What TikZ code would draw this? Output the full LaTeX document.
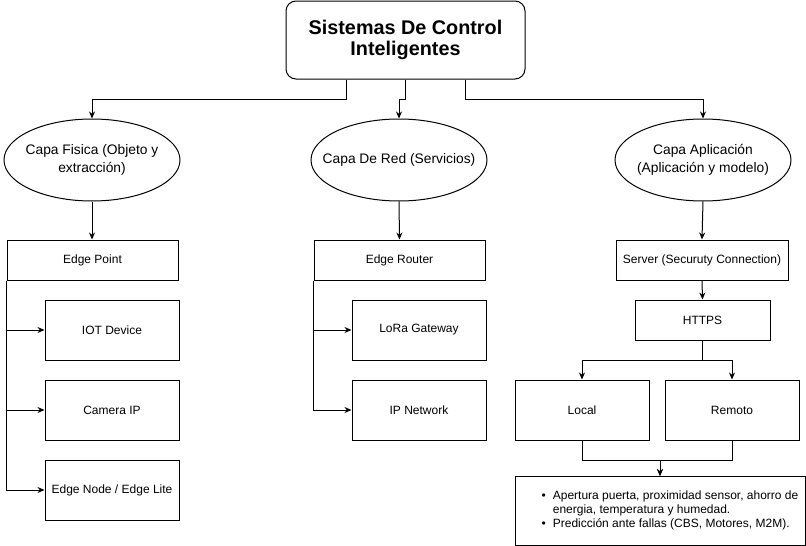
\documentclass[tikz,border=0pt]{standalone}
\usepackage{fontspec}
\setmainfont{Liberation Sans}
\usetikzlibrary{arrows.meta,shapes.geometric}

\begin{document}
\begin{tikzpicture}[x=1pt,y=-1pt,
  arr/.style={-{Stealth[length=7pt,width=6pt]}, line width=1pt},
  layer/.style={draw, ellipse, line width=1pt, minimum width=176pt, minimum height=82pt, inner xsep=-25pt, inner ysep=1pt, align=center, font=\fontsize{13.8}{17.5}\selectfont},
  box/.style={draw, rectangle, line width=1pt, align=center, font=\fontsize{12}{14}\selectfont}]
  \useasboundingbox (0,0) rectangle (806,546);

  % Title
  \node[box, rounded corners=10pt, minimum width=239pt, minimum height=78pt, font=\bfseries\fontsize{19.8}{21}\selectfont] (title) at (405.5,40) {Sistemas De Control\\Inteligentes};

  % Layers
  \node[layer] (fis) at (92,160) {Capa Fisica (Objeto y\\extracción)};
  \node[layer] (red) at (399,160) {Capa De Red (Servicios)};
  \node[layer] (apl) at (703,160) {Capa Aplicación\\(Aplicación y modelo)};

  % Title to layers
  \draw[arr] ([xshift=-59.5]title.south) -- ++(0,20) -| (fis.north);
  \draw[arr] ([xshift=-0.5]title.south) -- ++(0,20) -| (red.north);
  \draw[arr] ([xshift=59.5]title.south) -- ++(0,20) -| (apl.north);

  % Second row
  \node[box, minimum width=171pt, minimum height=40pt] (ep) at (92.5,260) {Edge Point};
  \node[box, minimum width=171pt, minimum height=40pt] (er) at (399.5,260) {Edge Router};
  \node[box, minimum width=172pt, minimum height=40pt] (srv) at (702,260) {Server (Securuty Connection)};

  \draw[arr] (fis.south) -- (fis.south |- ep.north);
  \draw[arr] (red.south) -- (er.north);
  \draw[arr] (apl.south) -- (srv.north);

  % Physical layer devices
  \node[box, minimum width=134pt, minimum height=60pt] (iot) at (112,330) {IOT Device};
  \node[box, minimum width=134pt, minimum height=60pt] (cam) at (112,410) {Camera IP};
  \node[box, minimum width=134pt, minimum height=60pt] (edn) at (112,490) {Edge Node / Edge Lite};

  \draw[arr] (ep.south west) |- (iot.west);
  \draw[arr] (ep.south west) |- (cam.west);
  \draw[arr] (ep.south west) |- (edn.west);

  % Network layer devices
  \node[box, minimum width=134pt, minimum height=60pt] (lora) at (419,330) {LoRa Gateway};
  \node[box, minimum width=134pt, minimum height=60pt] (ipn) at (419,410) {IP Network};

  \draw[arr] (er.south west) |- (lora.west);
  \draw[arr] (er.south west) |- (ipn.west);

  % Application layer
  \node[box, minimum width=135pt, minimum height=40pt] (https) at (702.5,320) {HTTPS};
  \node[box, minimum width=134pt, minimum height=60pt] (local) at (582,410) {Local};
  \node[box, minimum width=134pt, minimum height=60pt] (rem) at (732,410) {Remoto};
  \node[box, minimum width=290pt, minimum height=69pt, inner sep=0pt, align=left] (bul) at (660,511) {\hspace*{20pt}\begin{tabular}{@{}l@{\hspace{7pt}}l@{}}
    \textbullet & Apertura puerta, proximidad sensor, ahorro de\\
     & energia, temperatura y humedad.\\
    \textbullet & Predicción ante fallas (CBS, Motores, M2M).
  \end{tabular}};

  \draw[arr] (srv.south) -- (https.north);
  \draw[arr] (https.south) -- ++(0,20) -| (local.north);
  \draw[arr] (https.south) -- ++(0,20) -| (rem.north);
  \draw[arr] (local.south) -- ++(0,20) -| (bul.north);
  \draw[arr] (rem.south) -- ++(0,20) -| (bul.north);
\end{tikzpicture}
\end{document}
